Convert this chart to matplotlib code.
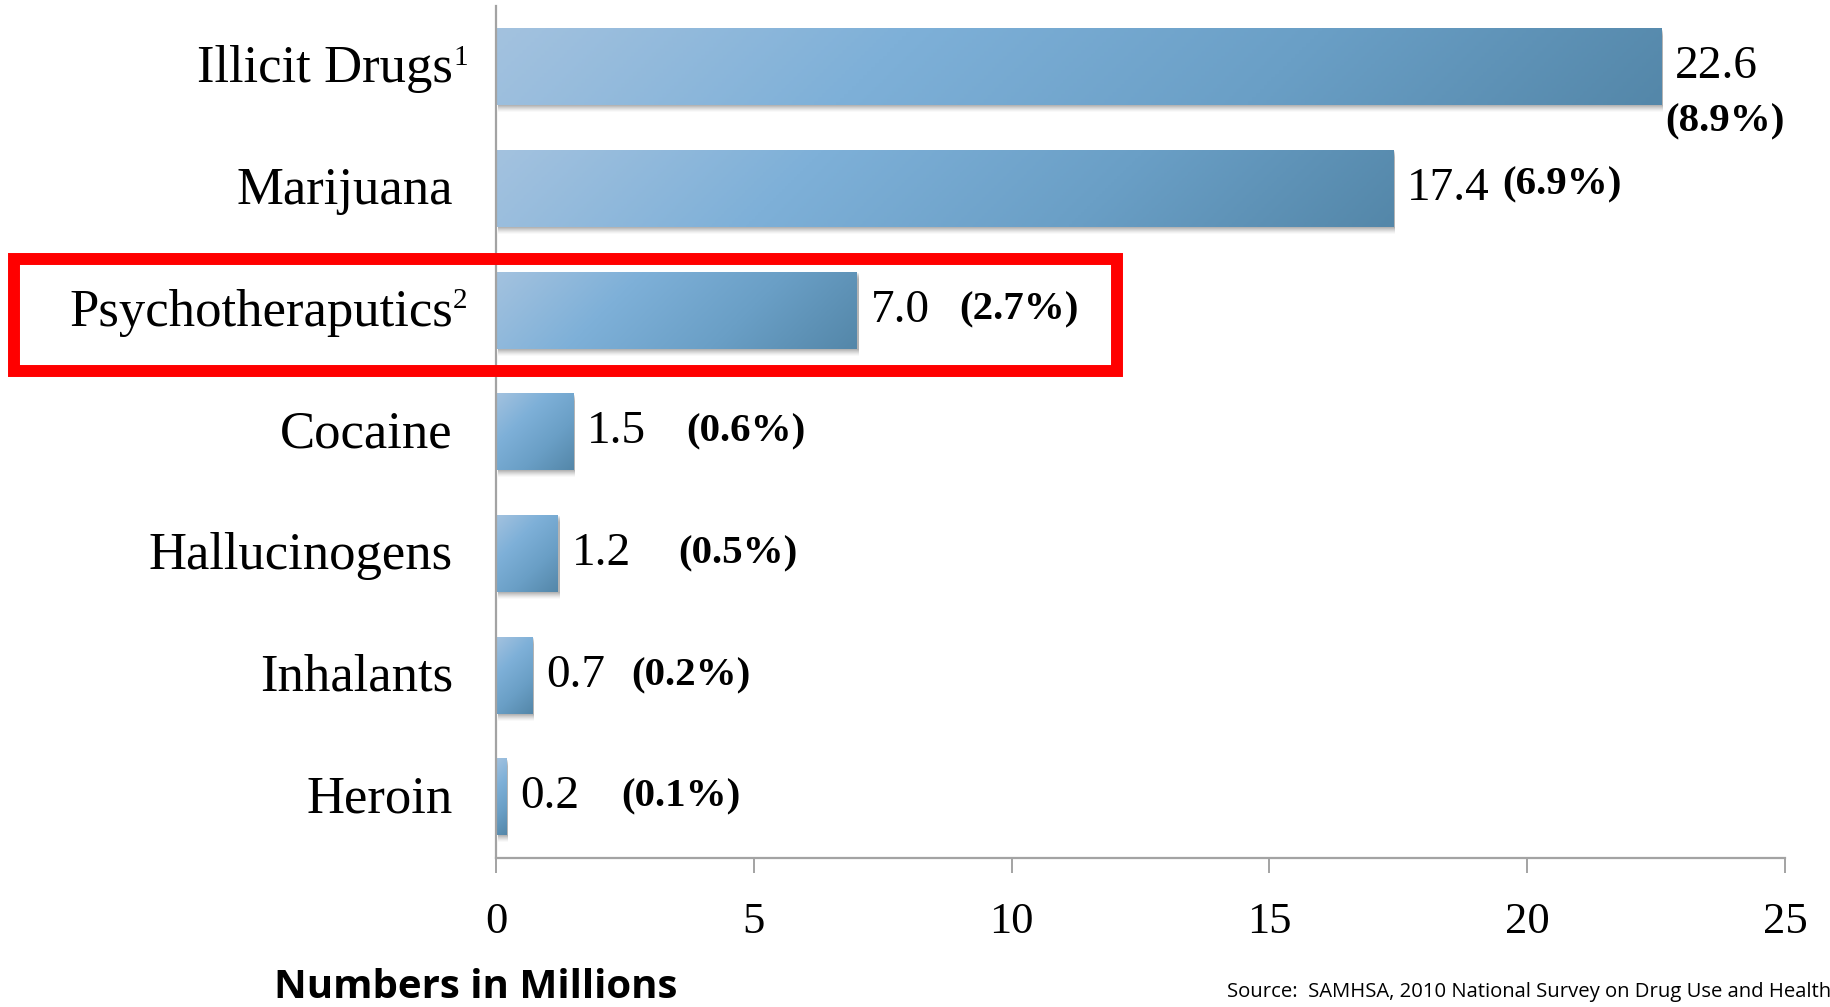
import numpy as np
import matplotlib.pyplot as plt
import matplotlib.transforms as mtransforms
from matplotlib.patches import Rectangle
from matplotlib.colors import LinearSegmentedColormap

# Dane (SAMHSA 2010) - liczby w milionach
categories = ["Illicit Drugs", "Marijuana", "Psychotheraputics", "Cocaine",
              "Hallucinogens", "Inhalants", "Heroin"]
footnotes = ["1", "", "2", "", "", "", ""]
values = [22.6, 17.4, 7.0, 1.5, 1.2, 0.7, 0.2]
value_labels = ["22.6", "17.4", "7.0", "1.5", "1.2", "0.7", "0.2"]
percent_labels = ["(8.9%)", "(6.9%)", "(2.7%)", "(0.6%)", "(0.5%)", "(0.2%)", "(0.1%)"]
xticks = [0, 5, 10, 15, 20, 25]

# odstep (px) miedzy liczba a procentem
pct_gap = [0, 95, 88, 99, 106, 85, 101]

SERIF = "Liberation Serif"
GRAY = "#a3a3a3"
bar_cmap = LinearSegmentedColormap.from_list(
    "bars", ["#a3c2df", "#7eb0d8", "#6a9fc6", "#5487a9"])

W, H, DPI = 1831, 1007, 100
fig = plt.figure(figsize=(W / DPI, H / DPI), dpi=DPI)
ax = fig.add_axes([496 / W, 149 / H, (1785 - 496) / W, (1001 - 149) / H])

bar_h = 0.63
ax.set_xlim(0, 25)
ax.set_ylim(len(values) - 0.5, -0.5)
px_per_x = (1785 - 496) / 25.0
px_per_y = (858 - 6) / len(values)

for i, v in enumerate(values):
    # cien pod slupkiem
    for k in range(7):
        tr = mtransforms.offset_copy(ax.transData, fig=fig, x=2, y=-(k + 1), units="dots")
        ax.add_patch(Rectangle((0, i - bar_h / 2), v, bar_h, transform=tr,
                               facecolor="black", edgecolor="none",
                               alpha=0.07 - 0.008 * k, zorder=1))
    # gradient slupka
    w_px = v * px_per_x
    h_px = bar_h * px_per_y
    xf, yf = np.meshgrid(np.linspace(0, 1, 300), np.linspace(0, 1, 60))
    t = (xf * w_px + yf * h_px) / (w_px + h_px)
    ax.imshow(bar_cmap(t), extent=(0, v, i + bar_h / 2, i - bar_h / 2),
              origin="upper", aspect="auto", interpolation="bilinear", zorder=2)

# etykiety wartosci
for i, v in enumerate(values):
    num_tr = mtransforms.offset_copy(ax.transData, fig=fig, x=14, y=0, units="dots")
    ax.text(v, i, value_labels[i], transform=num_tr, fontsize=34, family=SERIF,
            ha="left", va="center", zorder=5)
    if i == 0:
        pct_tr = mtransforms.offset_copy(ax.transData, fig=fig, x=4, y=-55, units="dots")
    else:
        pct_tr = mtransforms.offset_copy(ax.transData, fig=fig, x=14 + pct_gap[i],
                                         y=4 if i == 1 else 0, units="dots")
    ax.text(v, i, percent_labels[i], transform=pct_tr, fontsize=29.5, family=SERIF,
            fontweight="bold", ha="left", va="center", zorder=5)

# osie
ax.set_yticks(range(len(categories)))
ax.set_yticklabels(categories, fontsize=38, family=SERIF)
ax.tick_params(axis="y", length=0, pad=31)
for lbl in ax.get_yticklabels():
    lbl.set_transform(lbl.get_transform() + mtransforms.Affine2D().translate(0, 3))
for i, fn in enumerate(footnotes):
    if fn:
        tr = mtransforms.offset_copy(ax.transData, fig=fig, x=-43, y=22, units="dots")
        ax.text(0, i, fn, transform=tr, fontsize=21, family=SERIF,
                ha="left", va="top", clip_on=False)

ax.set_xticks(xticks)
ax.set_xticklabels([str(x) for x in xticks], fontsize=32, family=SERIF)
ax.tick_params(axis="x", direction="out", length=11, width=1.4, color=GRAY, pad=21)

for side in ["top", "right"]:
    ax.spines[side].set_visible(False)
for side in ["left", "bottom"]:
    ax.spines[side].set_color(GRAY)
    ax.spines[side].set_linewidth(1.6)

# czerwona ramka wokol Psychotheraputics
fig.patches.append(Rectangle((14 / W, 1 - 371 / H), (1117 - 14) / W, (371 - 259) / H,
                             transform=fig.transFigure, fill=False,
                             edgecolor="#ff0000", linewidth=8.6, zorder=10))

fig.text(274 / W, 1 - 998 / H, "Numbers in Millions", fontsize=29, family="Open Sans",
         fontweight="bold", ha="left", va="baseline")
fig.text(1227 / W, 1 - 997 / H, "Source:  SAMHSA, 2010 National Survey on Drug Use and Health",
         fontsize=14.6, family="Open Sans", ha="left", va="baseline")

fig.savefig("out.png", dpi=DPI)
